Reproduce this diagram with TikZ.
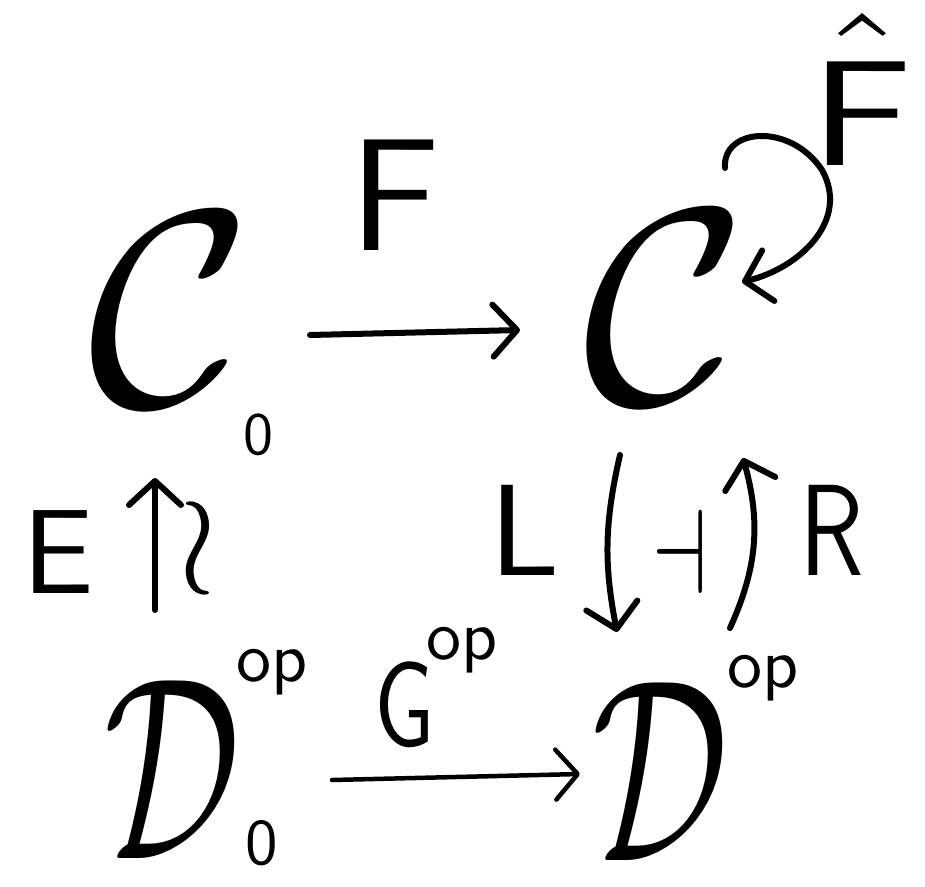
\documentclass[tikz,border=0pt]{standalone}
\usetikzlibrary{arrows.meta,calc}
\begin{document}
\begin{tikzpicture}[x=1pt,y=-1pt,
  lab/.style={inner sep=0pt,font=\sffamily},
  cat/.style={inner sep=0pt},
  arr/.style={line width=6pt,line cap=round,-{Straight Barb[length=24pt,width=52pt,line width=6pt,round]}},
  thinarr/.style={line width=4.5pt,line cap=round,-{Straight Barb[length=22pt,width=50pt,line width=4.5pt,round]}}]
\useasboundingbox (0,0) rectangle (925,886);
% objects
\node[cat,scale=28] (C0) at (170,310) {$\mathcal{C}$};
\node[lab,scale=6] (C0s) at (258,435) {0};
\node[cat,scale=28] (C1) at (665,308) {$\mathcal{C}$};
\node[cat,xscale=17,yscale=26] (D0) at (172,770) {$\mathcal{D}$};
\node[lab,scale=7] (D0p) at (272,672) {op};
\node[lab,scale=6.5] (D0s) at (262,843) {0};
\node[cat,xscale=17,yscale=26] (D1) at (660,772) {$\mathcal{D}$};
\node[lab,scale=7] (D1p) at (763,678) {op};
% labels
\node[lab,scale=16] (F) at (395,195) {F};
\node[lab,xscale=18,yscale=15,anchor=base] (Fh) at (862,165) {$\hat{\mathsf{F}\rule{0pt}{0.75em}}$};
\node[lab,scale=12] (E) at (58,552) {E};
\node[lab,scale=14] (iso) at (198,548) {$\wr$};
\node[lab,scale=13] (L) at (525,530) {L};
\node[lab,xscale=9,yscale=12] (adj) at (680,552) {$\dashv$};
\node[lab,xscale=10,yscale=13] (R) at (832,530) {R};
\node[lab,xscale=9,yscale=12] (G) at (405,705) {G};
\node[lab,scale=7] (Gp) at (462,650) {op};
% connectors
\draw[arr] ($(C0)+(140,25)$) -- ($(C1)+(-145,22)$);
\draw[arr] ($(C1)+(60,-140)$) .. controls ($(C1)+(57,-180)$) and ($(C1)+(125,-186)$) .. ($(C1)+(157,-138)$)
  .. controls ($(C1)+(185,-88)$) and ($(C1)+(135,-40)$) .. ($(C1)+(77,-26)$);
\draw[arr] ($(D0)+(-17,-160)$) -- ($(C0)+(-15,168)$);
\draw[arr] ($(C1)+(-45,147)$) to[bend right=12] ($(D1)+(-43,-140)$);
\draw[arr] ($(D1)+(70,-144)$) to[bend right=20] ($(C1)+(78,150)$);
\draw[thinarr] ($(D0)+(160,10)$) -- ($(D1)+(-80,2)$);
\end{tikzpicture}
\end{document}
